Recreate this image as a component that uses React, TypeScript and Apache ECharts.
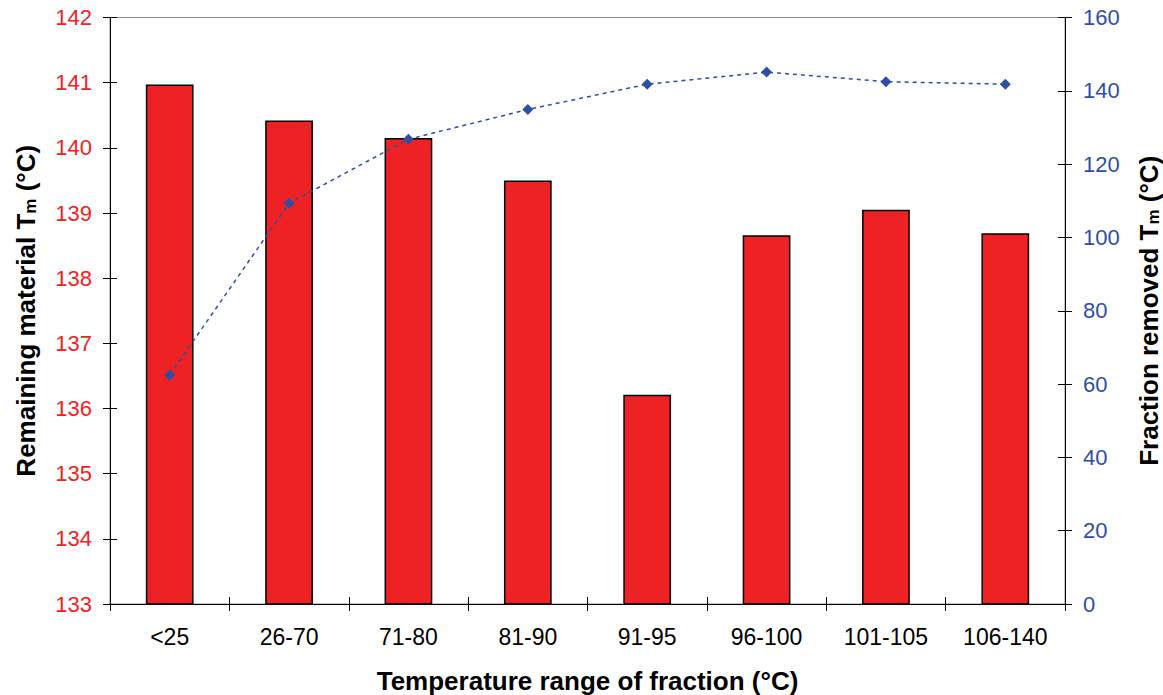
import React, { useEffect, useRef } from "react";
import * as echarts from "echarts";

const categories = ["<25", "26-70", "71-80", "81-90", "91-95", "96-100", "101-105", "106-140"];
const remainingTm = [140.97, 140.42, 140.15, 139.5, 136.21, 138.66, 139.05, 138.69];
const removedTm = [62.5, 109.3, 126.8, 134.9, 141.8, 145.1, 142.5, 141.8];

const FONT = "'Liberation Sans', Arial, sans-serif";
const RED = "#EE2224";
const BLUE = "#2E4FA3";

export default function App() {
  const ref = useRef<HTMLDivElement>(null);

  useEffect(() => {
    if (!ref.current) return;
    const chart = echarts.init(ref.current, undefined, { renderer: "svg" });

    const nameRich = {
      sub: { fontSize: 17, fontWeight: "bold", fontFamily: FONT, color: "#000", verticalAlign: "bottom", lineHeight: 26, padding: [14, 0, 0, 0] },
    };

    chart.setOption({
      animation: false,
      textStyle: { fontFamily: FONT },
      grid: {
        left: 110,
        right: 98,
        top: 17.5,
        bottom: 91,
        containLabel: false,
        outerBoundsMode: "none",
        show: true,
        borderColor: "#8c8c8c",
        borderWidth: 1,
        backgroundColor: "transparent",
      },
      xAxis: [
        {
          type: "category",
          data: categories,
          position: "bottom",
          axisLine: { show: true, lineStyle: { color: "#000", width: 1 } },
          axisTick: { show: true, inside: false, length: 7, alignWithLabel: false, lineStyle: { color: "#000" } },
          axisLabel: { fontSize: 23, color: "#000", margin: 21, fontFamily: FONT },
          name: "Temperature range of fraction (°C)",
          nameLocation: "middle",
          nameGap: 64,
          nameTextStyle: { fontSize: 26, fontWeight: "bold", color: "#000", fontFamily: FONT },
          splitLine: { show: false },
        },
        {
          type: "category",
          data: categories,
          position: "bottom",
          axisLine: { show: false },
          axisTick: { show: true, inside: true, length: 7, alignWithLabel: false, lineStyle: { color: "#000" } },
          axisLabel: { show: false },
          splitLine: { show: false },
        },
      ],
      yAxis: [
        {
          type: "value",
          min: 133,
          max: 142,
          interval: 1,
          position: "left",
          axisLine: { show: true, lineStyle: { color: "#000", width: 1 } },
          axisTick: { show: true, inside: false, length: 7, lineStyle: { color: "#000" } },
          axisLabel: { fontSize: 22, color: RED, margin: 18, fontFamily: FONT },
          splitLine: { show: false },
          name: "Remaining material T{sub|m} (°C)",
          nameLocation: "middle",
          nameRotate: 90,
          nameGap: 71,
          nameTextStyle: { fontSize: 26, fontWeight: "bold", color: "#000", fontFamily: FONT, rich: nameRich },
        },
        {
          type: "value",
          min: 0,
          max: 160,
          interval: 20,
          position: "right",
          axisLine: { show: true, lineStyle: { color: "#000", width: 1 } },
          axisTick: { show: true, inside: false, length: 7, lineStyle: { color: "#000" } },
          axisLabel: { fontSize: 22, color: BLUE, margin: 18, fontFamily: FONT },
          splitLine: { show: false },
          name: "Fraction removed T{sub|m} (°C)",
          nameLocation: "middle",
          nameRotate: 90,
          nameGap: 65,
          nameTextStyle: { fontSize: 26, fontWeight: "bold", color: "#000", fontFamily: FONT, rich: nameRich },
        },
        {
          type: "value",
          min: 133,
          max: 142,
          interval: 1,
          position: "left",
          axisLine: { show: false },
          axisTick: { show: true, inside: true, length: 7, lineStyle: { color: "#000" } },
          axisLabel: { show: false },
          splitLine: { show: false },
        },
        {
          type: "value",
          min: 0,
          max: 160,
          interval: 20,
          position: "right",
          axisLine: { show: false },
          axisTick: { show: true, inside: true, length: 7, lineStyle: { color: "#000" } },
          axisLabel: { show: false },
          splitLine: { show: false },
        },
      ],
      series: [
        {
          name: "Remaining material",
          type: "bar",
          xAxisIndex: 0,
          yAxisIndex: 0,
          data: remainingTm,
          barWidth: "40%",
          itemStyle: { color: RED, borderColor: "#000", borderWidth: 1.5 },
          z: 2,
        },
        {
          name: "Fraction removed",
          type: "line",
          xAxisIndex: 0,
          yAxisIndex: 1,
          data: removedTm,
          symbol: "diamond",
          symbolSize: 11,
          itemStyle: { color: BLUE },
          lineStyle: { color: BLUE, width: 1.5, type: [4, 4] },
          z: 3,
        },
      ],
    });

    return () => chart.dispose();
  }, []);

  return (
    <div
      ref={ref}
      style={{ position: "fixed", left: 0, top: 0, width: 1163, height: 695, background: "#fff" }}
    />
  );
}
